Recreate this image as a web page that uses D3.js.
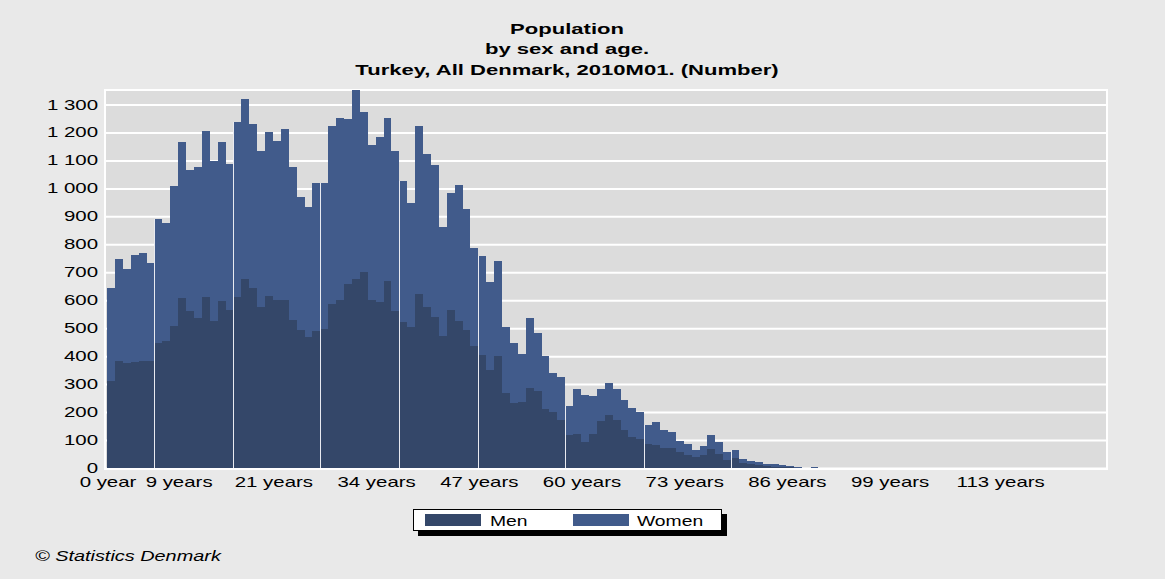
<!DOCTYPE html>
<html>
<head>
<meta charset="utf-8">
<script src="https://cdn.jsdelivr.net/npm/d3@7"></script>
<style>
  body { margin: 0; background: #e9e9e9; }
  text { font-family: "Liberation Sans", Arial, sans-serif; fill: #000; }
</style>
</head>
<body>
<div id="chart"></div>
<script>
// Data
// ==============================
var ages = d3.range(0, 126).map(a => a === 0 ? "0 year" : a === 1 ? "1 year" : a + " years");

var men = [
  310, 381, 376, 379, 381, 381, 447, 453, 509, 608,
  563, 535, 612, 527, 599, 566, 612, 676, 644, 576,
  616, 602, 602, 531, 494, 469, 489, 497, 587, 600,
  659, 676, 700, 600, 593, 670, 563, 521, 504, 622,
  576, 540, 473, 566, 525, 495, 438, 405, 349, 402,
  268, 231, 235, 287, 277, 211, 200, 173, 117, 123,
  92, 123, 167, 191, 173, 137, 111, 104, 87, 83,
  72, 72, 59, 48, 39, 48, 69, 51, 30, 36,
  18, 14, 12, 8, 5, 4, 2, 1, 0, 1,
  0, 0, 0, 0, 0, 0, 0, 0, 0, 0,
  0, 0, 0, 0, 0, 0, 0, 0, 0, 0,
  0, 0, 0, 0, 0, 0, 0, 0, 0, 0,
  0, 0, 0, 0, 0, 0
];

var women = [
  334, 367, 336, 384, 388, 352, 444, 423, 501, 557,
  504, 542, 592, 571, 566, 522, 625, 644, 588, 559,
  586, 569, 611, 546, 476, 465, 531, 523, 635, 652,
  590, 675, 574, 556, 591, 582, 572, 504, 444, 600,
  547, 543, 389, 418, 489, 432, 350, 352, 318, 338,
  236, 216, 173, 249, 206, 189, 140, 151, 106, 160,
  170, 133, 116, 113, 110, 105, 104, 95, 68, 82,
  65, 55, 36, 39, 26, 32, 48, 41, 29, 29,
  15, 10, 9, 7, 8, 5, 5, 3, 1, 3,
  0, 0, 0, 0, 0, 0, 0, 0, 0, 0,
  0, 0, 0, 0, 0, 0, 0, 0, 0, 0,
  0, 0, 0, 0, 0, 0, 0, 0, 0, 0,
  0, 0, 0, 0, 0, 0
];

var xTickLabels = ["0 year", "9 years", "21 years", "34 years", "47 years",
                   "60 years", "73 years", "86 years", "99 years", "113 years"];
var yTicks = [0, 100, 200, 300, 400, 500, 600, 700, 800, 900, 1000, 1100, 1200, 1300];

var titleLines = ["Population", "by sex and age.", "Turkey, All Denmark, 2010M01. (Number)"];
var seriesNames = ["Men", "Women"];

// Layout
// ==============================
var svgWidth = 1165;
var svgHeight = 579;
var plot = { left: 105, top: 90, right: 1107, bottom: 469 };
var stretch = 1.46; // the reference image is widened horizontally

var colors = { men: "#344769", women: "#415b8b" };

var svg = d3.select("#chart")
  .append("svg")
  .attr("width", svgWidth)
  .attr("height", svgHeight);

svg.append("rect")
  .attr("width", svgWidth)
  .attr("height", svgHeight)
  .attr("fill", "#e9e9e9");

function wideText(g, x, y, str, sx) {
  return g.append("text")
    .attr("transform", `translate(${x},${y}) scale(${sx},1)`)
    .text(str);
}

// Scales
// ==============================
var x = d3.scaleBand()
  .domain(ages)
  .range([107, 107 + 7.9 * ages.length])
  .padding(0);

var y = d3.scaleLinear()
  .domain([0, 1352])
  .range([468, 90]);

// Plot background + gridlines
svg.append("rect")
  .attr("x", plot.left)
  .attr("y", plot.top)
  .attr("width", plot.right - plot.left)
  .attr("height", plot.bottom - plot.top)
  .attr("fill", "#dcdcdc")
  .attr("stroke", "#ffffff")
  .attr("stroke-width", 2);

var fmt = d3.formatLocale({ decimal: ",", thousands: " ", grouping: [3], currency: ["", ""] }).format(",d");

var yAxis = svg.append("g")
  .attr("transform", `translate(${plot.left}, 0)`)
  .call(d3.axisLeft(y)
    .tickValues(yTicks)
    .tickSize(-(plot.right - plot.left))
    .tickPadding(7)
    .tickFormat(fmt));

yAxis.select(".domain").remove();
yAxis.selectAll("line")
  .attr("stroke", "#ffffff")
  .attr("stroke-width", 2);
yAxis.selectAll("text")
  .attr("font-family", "Liberation Sans, Arial, sans-serif")
  .attr("font-size", 14)
  .attr("x", -7 / stretch)
  .attr("transform", `scale(${stretch},1)`);

// Stacked bars
// ==============================
var table = ages.map((a, i) => ({ age: a, men: men[i], women: women[i] }));
var stacked = d3.stack().keys(["men", "women"])(table);

// the original renderer leaves a thin light seam every ~10 bars
function seam(i) {
  return i > 0 && Math.floor(i * 0.0959 + 0.5) > Math.floor((i - 1) * 0.0959 + 0.5);
}
function barX(i) {
  return Math.round(x(ages[i])) + (seam(i) ? 1 : 0);
}
function barW(i) {
  return Math.round(x(ages[i]) + x.bandwidth()) - barX(i);
}

svg.append("g")
  .selectAll("g")
  .data(stacked)
  .enter()
  .append("g")
  .attr("fill", d => colors[d.key])
  .selectAll("rect")
  .data(d => d)
  .enter()
  .append("rect")
  .attr("shape-rendering", "crispEdges")
  .attr("x", (d, i) => barX(i))
  .attr("width", (d, i) => barW(i))
  .attr("y", d => y(d[1]))
  .attr("height", d => y(d[0]) - y(d[1]));

svg.append("g")
  .selectAll("rect")
  .data(table.filter((d, i) => seam(i) && d.men + d.women > 0))
  .enter()
  .append("rect")
  .attr("shape-rendering", "crispEdges")
  .attr("fill", "#e8eaf0")
  .attr("x", d => Math.round(x(d.age)))
  .attr("width", 1)
  .attr("y", d => y(d.men + d.women))
  .attr("height", d => y(0) - y(d.men + d.women));

// X axis labels
// ==============================
var xAxis = svg.append("g")
  .attr("transform", `translate(${-x.bandwidth() / 2 + 1}, ${plot.bottom})`)
  .call(d3.axisBottom(x)
    .tickValues(xTickLabels)
    .tickSize(0)
    .tickPadding(8));

xAxis.select(".domain").remove();
xAxis.selectAll("text")
  .attr("font-family", "Liberation Sans, Arial, sans-serif")
  .attr("font-size", 14)
  .attr("transform", `scale(${stretch},1)`);

// Title
// ==============================
var titleG = svg.append("g")
  .attr("font-weight", "bold")
  .attr("font-size", 15)
  .attr("text-anchor", "middle");

[34, 54, 75].forEach((ty, i) => wideText(titleG, 567, ty, titleLines[i], 1.47));

// Legend
// ==============================
var legend = svg.append("g").attr("font-size", 14);

legend.append("rect")
  .attr("x", 418).attr("y", 514)
  .attr("width", 309).attr("height", 22)
  .attr("fill", "#000");

legend.append("rect")
  .attr("x", 413.5).attr("y", 509.5)
  .attr("width", 308).attr("height", 21)
  .attr("fill", "#ffffff")
  .attr("stroke", "#000")
  .attr("stroke-width", 1);

[["men", 425, 490], ["women", 573, 637]].forEach((s, i) => {
  legend.append("rect")
    .attr("x", s[1]).attr("y", 514)
    .attr("width", 56).attr("height", 12)
    .attr("fill", colors[s[0]]);
  wideText(legend, s[2], 526, seriesNames[i], 1.38);
});

// Footer
wideText(svg.append("g").attr("font-size", 14).attr("font-style", "italic"),
  35, 561, "\u00a9 Statistics Denmark", 1.42);
</script>
</body>
</html>
